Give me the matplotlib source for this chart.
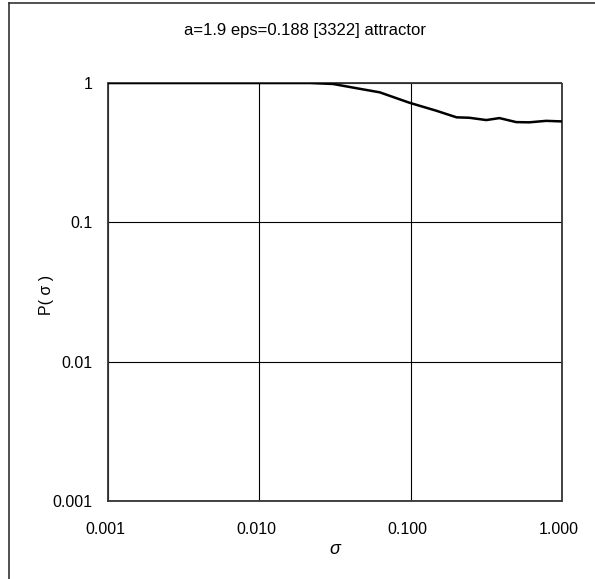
import matplotlib
matplotlib.use("Agg")
import matplotlib.pyplot as plt
from matplotlib.lines import Line2D
from matplotlib.ticker import FixedLocator, FixedFormatter, NullLocator
from matplotlib.transforms import ScaledTranslation

title = "a=1.9 eps=0.188 [3322] attractor"
sigma = [0.001, 0.002, 0.005, 0.01, 0.015, 0.0217, 0.0307, 0.0442, 0.0625, 0.098,
         0.148, 0.201, 0.244, 0.316, 0.386, 0.498, 0.607, 0.785, 1.0]
P = [1.0, 1.0, 1.0, 1.0, 1.0, 1.0, 0.984, 0.916, 0.857, 0.722,
     0.632, 0.567, 0.563, 0.542, 0.56, 0.524, 0.522, 0.535, 0.53]
xticks = [0.001, 0.01, 0.1, 1.0]
xticklabels = ["0.001", "0.010", "0.100", "1.000"]
yticks = [0.001, 0.01, 0.1, 1.0]
yticklabels = ["0.001", "0.01", "0.1", "1"]

plt.rcParams['font.family'] = ['Liberation Sans', 'DejaVu Sans']
fig = plt.figure(figsize=(5.95, 5.79), dpi=100)
ax = fig.add_axes([108/595, 1-501/579, (562-108)/595, (501-83)/579])
ax.set_xscale('log')
ax.set_yscale('log')
ax.set_xlim(0.001, 1.0)
ax.set_ylim(0.001, 1.0)
ax.plot(sigma, P, color='black', lw=1.8, zorder=3)

ax.xaxis.set_major_locator(FixedLocator(xticks))
ax.xaxis.set_major_formatter(FixedFormatter(xticklabels))
ax.yaxis.set_major_locator(FixedLocator(yticks))
ax.yaxis.set_major_formatter(FixedFormatter(yticklabels))
ax.xaxis.set_minor_locator(NullLocator())
ax.yaxis.set_minor_locator(NullLocator())
ax.tick_params(axis='x', length=0, pad=15, labelsize=11.5, colors='black')
ax.tick_params(axis='y', length=0, pad=11, labelsize=11.5, colors='black')
ax.grid(True, color='black', lw=0.8)
for s in ax.spines.values():
    s.set_linestyle((0, (1, 1)))
    s.set_linewidth(1.3)
    s.set_color('#333333')

for lab in ax.get_xticklabels():
    lab.set_transform(lab.get_transform() + ScaledTranslation(-3/100, 0, fig.dpi_scale_trans))

fig.text(335/595, 1-550/579, "σ", ha='center', va='center', fontsize=13, style='italic')
fig.text(46.5/595, 1-295/579, "P( σ )", ha='center', va='center', fontsize=11.5, rotation=90)
fig.text(305/595, 1-30/579, title, ha='center', va='center', fontsize=12)

fig.add_artist(Line2D([9/595, 9/595], [0, 1-3/579], color='#333333', lw=1.2))
fig.add_artist(Line2D([9/595, 1], [1-3/579, 1-3/579], color='#333333', lw=1.2))

fig.savefig("out.png", dpi=100)
